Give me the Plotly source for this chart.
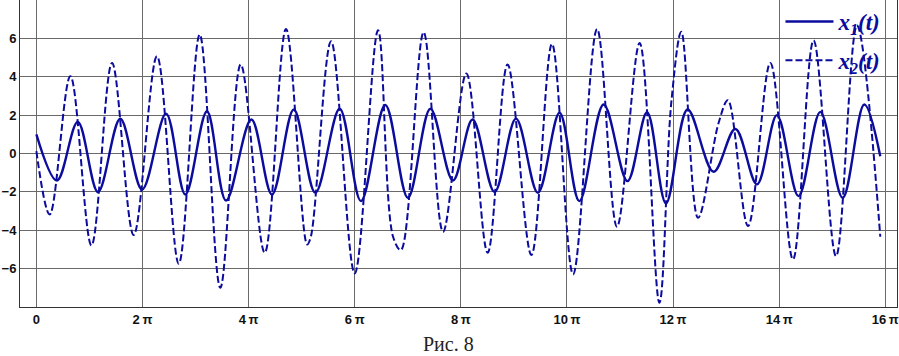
import math
import plotly.graph_objects as go

# x1(t): extrema (and end point)
t1 = [0.00, 1.22, 2.45, 3.65, 4.97, 6.26, 7.68, 8.82, 10.10, 11.23, 12.73, 13.95,
      15.24, 16.52, 17.96, 19.22, 20.66, 22.00, 23.33, 24.67, 25.83, 27.13, 28.40,
      29.70, 30.98, 32.15, 33.59, 35.00, 36.16, 37.28, 38.56, 40.10, 41.39, 42.67,
      43.85, 45.13, 46.42, 47.74, 49.02, 49.97]
x1 = [1.00, -1.41, 1.65, -2.01, 1.81, -1.88, 2.08, -2.14, 2.20, -2.45, 1.77, -2.14,
      2.29, -2.05, 2.33, -2.48, 2.53, -2.31, 2.33, -1.41, 1.77, -2.01, 1.82,
      -2.05, 2.12, -2.48, 2.55, -1.44, 2.15, -2.60, 2.29, -0.95, 1.28, -1.61,
      2.00, -2.22, 2.17, -2.31, 2.55, -0.14]

# x2(t): extrema, shoulders and end point
t2 = [0.00, 0.79, 2.01, 3.26, 4.48, 5.76, 7.14, 8.43, 9.67, 10.89, 12.10, 13.52,
      14.78, 16.03, 16.25, 17.45, 18.85, 20.23, 21.12, 21.59, 22.93, 24.08, 25.46,
      26.72, 27.90, 29.31, 30.53, 31.78, 33.20, 34.38, 35.72, 36.89, 37.60, 38.19,
      39.18, 40.40, 40.95, 42.14, 43.46, 44.80, 46.02, 47.35, 48.59, 49.97]
x2 = [0.12, -3.18, 4.03, -4.79, 4.72, -4.25, 5.07, -5.75, 6.20, -7.00, 4.64, -5.17,
      6.49, -4.74, -4.34, 5.85, -6.25, 6.42, -4.34, -5.03, 6.32, -4.08, 4.17,
      -5.17, 4.64, -5.29, 5.71, -6.30, 6.49, -3.82, 5.76, -7.78, 2.70, 6.34,
      -3.35, 1.60, 2.78, -3.78, 4.72, -5.52, 5.90, -5.35, 6.67, -4.34]

xtick_mult = [0, 2, 4, 6, 8, 10, 12, 14, 16]
xtick_text = ["0", "2\u2009π", "4\u2009π", "6\u2009π", "8\u2009π", "10\u2009π",
              "12\u2009π", "14\u2009π", "16\u2009π"]
ytick_vals = [-6, -4, -2, 0, 2, 4, 6]

color = "#0b0b9e"

fig = go.Figure()
fig.add_trace(go.Scatter(
    x=t1, y=x1, mode="lines", name="x<sub>1</sub>(t)", legendgroup="a",
    line=dict(color=color, width=2.4, shape="spline", smoothing=1.0)))
fig.add_trace(go.Scatter(
    x=t2, y=x2, mode="lines", name="x<sub>2</sub>(t)", legendgroup="b",
    line=dict(color=color, width=2.0, dash="7px,3px", shape="spline", smoothing=1.0)))

grid = "#6a6a6a"
fig.update_xaxes(
    range=[-0.97, 50.96], automargin=False,
    tickvals=[m * math.pi for m in xtick_mult], ticktext=xtick_text,
    showgrid=True, gridcolor=grid, gridwidth=1, zeroline=False,
    showline=True, linecolor="#333333", linewidth=1, mirror=True,
    ticks="", tickfont=dict(family="Liberation Sans", size=13, color="#111111", weight="bold"))
fig.update_yaxes(
    range=[-8, 8], tickvals=ytick_vals, automargin=False,
    showgrid=True, gridcolor=grid, gridwidth=1, zeroline=False,
    showline=True, linecolor="#333333", linewidth=1, mirror=True,
    ticks="", tickfont=dict(family="Liberation Sans", size=13, color="#111111", weight="bold"))

fig.update_layout(
    width=899, height=356,
    margin=dict(l=20, r=2, t=0, b=49, autoexpand=False),
    paper_bgcolor="white", plot_bgcolor="white",
    showlegend=True,
    legend=dict(x=0.988, xanchor="right", y=1.0, yanchor="top",
                bgcolor="rgba(0,0,0,0)", borderwidth=0,
                traceorder="grouped", tracegroupgap=6, itemwidth=48,
                font=dict(family="Liberation Serif", size=23, color="#0b0b9e",
                          weight="bold", style="italic")),
    annotations=[dict(text="Рис. 8", xref="paper", yref="paper",
                      x=0.4886, y=-0.122, xanchor="center", yanchor="middle",
                      showarrow=False,
                      font=dict(family="Liberation Serif", size=20, color="#222222"))],
)

fig.write_html("out.html", config={"displayModeBar": False},
               post_script="document.body.style.margin='0';")
